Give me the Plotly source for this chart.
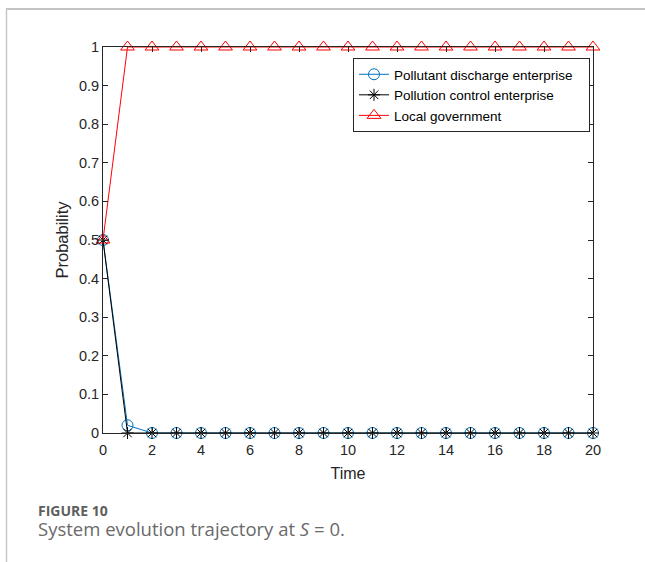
import plotly.graph_objects as go

time = list(range(0, 21))
pollutant_discharge = [0.5, 0.02] + [0.0] * 19
pollution_control = [0.5, 0.0] + [0.0] * 19
local_government = [0.5] + [1.0] * 20
series_names = ["Pollutant discharge enterprise", "Pollution control enterprise", "Local government"]

x_ticks = [0, 2, 4, 6, 8, 10, 12, 14, 16, 18, 20]
y_ticks = [0, 0.1, 0.2, 0.3, 0.4, 0.5, 0.6, 0.7, 0.8, 0.9, 1]
y_tick_labels = ["0", "0.1", "0.2", "0.3", "0.4", "0.5", "0.6", "0.7", "0.8", "0.9", "1"]

W, H = 645, 562
L, R, T, B = 103, 593, 47, 433
pw, ph = R - L, B - T

def px(x):
    return (x - L) / pw

def py(y):
    return (B - y) / ph

fig = go.Figure()
fig.add_trace(go.Scatter(
    x=time, y=pollutant_discharge, mode="lines+markers",
    name=series_names[0] + "&nbsp;&nbsp;&nbsp;",
    line=dict(color="#0072BD", width=1),
    marker=dict(symbol="circle-open", size=11, color="#0072BD", line=dict(width=1)),
    cliponaxis=False,
))
fig.add_trace(go.Scatter(
    x=time, y=pollution_control, mode="lines+markers",
    name=series_names[1],
    line=dict(color="#000000", width=1),
    marker=dict(symbol="asterisk-open", size=10, color="#000000", line=dict(width=1)),
    cliponaxis=False,
))
fig.add_trace(go.Scatter(
    x=time, y=local_government, mode="lines+markers",
    name=series_names[2],
    line=dict(color="#FF0000", width=1),
    marker=dict(symbol="triangle-up-open", size=12, color="#FF0000", line=dict(width=1)),
    cliponaxis=False,
))

axis_font = dict(family="Liberation Sans, Arial, sans-serif", size=14.5, color="#262626")

fig.update_layout(
    width=W, height=H,
    margin=dict(l=L, r=W - R, t=T, b=H - B),
    paper_bgcolor="white", plot_bgcolor="white",
    font=axis_font,
    xaxis=dict(
        range=[0, 20], tickvals=x_ticks, ticks="inside", ticklen=5,
        tickcolor="#262626", showline=True, linecolor="#262626", linewidth=1,
        mirror="ticks", showgrid=False, zeroline=False, ticklabelstandoff=4,
        title=dict(text="Time", font=dict(size=16, color="#262626"), standoff=10),
    ),
    yaxis=dict(
        range=[0, 1], tickvals=y_ticks, ticktext=y_tick_labels, ticks="inside", ticklen=5,
        tickcolor="#262626", showline=True, linecolor="#262626", linewidth=1,
        mirror="ticks", showgrid=False, zeroline=False,
        title=dict(text="Probability", font=dict(size=16.5, color="#262626"), standoff=6),
    ),
    legend=dict(
        x=px(353), y=py(58), xanchor="left", yanchor="top",
        bgcolor="white", bordercolor="#262626", borderwidth=1,
        font=dict(size=13.5, color="#000000"), tracegroupgap=0,
        itemwidth=30,
    ),
    showlegend=True,
    shapes=[
        dict(type="line", xref="paper", yref="paper", x0=px(6), x1=px(660),
             y0=py(9), y1=py(9), layer="above", line=dict(color="#c4c4c4", width=2)),
        dict(type="line", xref="paper", yref="paper", x0=px(6.5), x1=px(6.5),
             y0=py(8), y1=py(570), layer="above", line=dict(color="#c8c8c8", width=1.5)),
    ],
    annotations=[
        dict(text="<b>FIGURE 10</b>", xref="paper", yref="paper", x=px(36), y=py(510),
             xanchor="left", yanchor="middle", showarrow=False,
             font=dict(family="Open Sans, Lato, sans-serif", size=14, color="#5e5e5e")),
        dict(text="System evolution trajectory at <i>S</i> = 0.", xref="paper", yref="paper",
             x=px(36), y=py(528), xanchor="left", yanchor="middle", showarrow=False,
             font=dict(family="Open Sans, Lato, sans-serif", size=18.5, color="#6a6a6a")),
    ],
)

fig.write_html("out.html", config={"displayModeBar": False},
               post_script="document.body.style.margin='0px';")
